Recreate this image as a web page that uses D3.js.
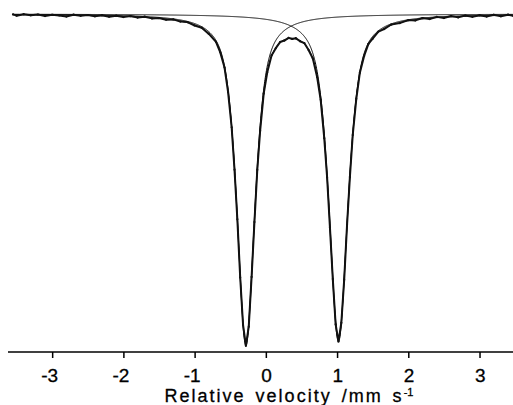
<!DOCTYPE html>
<html lang="en">
<head>
  <meta charset="utf-8">
  <title>Mossbauer spectrum</title>
  <script src="https://d3js.org/d3.v7.min.js"></script>
  <style>
    body { margin: 0; background: #fff; }
    .fit-line { fill: none; stroke: #000; stroke-width: 1; }
    .data-line { fill: none; stroke: #111; stroke-width: 2; stroke-linejoin: round; }
    .data-dot { fill: #111; }
    .axis text { font-family: "Liberation Sans", Arial, sans-serif; font-size: 19px; fill: #000; stroke: #000; stroke-width: 0.3; }
    .axis line, .axis path { stroke: #000; stroke-width: 1.5; }
    .title { font-family: "Liberation Sans", Arial, sans-serif; font-size: 18px; letter-spacing: 2px; word-spacing: 3px; stroke: #000; stroke-width: 0.3; }
  </style>
</head>
<body>
<script>
  // measured spectrum (relative transmission, %)
  const velocity = [-3.55,-3.5,-3.4,-3.3,-3.2,-3.1,-3.0,-2.9,-2.8,-2.7,-2.6,-2.5,-2.4,-2.3,-2.2,-2.1,-2.0,-1.9,-1.8,-1.7,-1.6,-1.5,-1.4,-1.3,-1.2,-1.1,-1.0,-0.9,-0.8,-0.7,-0.64,-0.58,-0.53,-0.48,-0.44,-0.40,-0.36,-0.32,-0.28,-0.24,-0.20,-0.16,-0.12,-0.08,-0.03,0.02,0.08,0.14,0.20,0.26,0.32,0.37,0.42,0.48,0.54,0.60,0.66,0.72,0.77,0.82,0.86,0.90,0.94,0.98,1.02,1.06,1.10,1.14,1.18,1.22,1.27,1.32,1.38,1.44,1.50,1.58,1.66,1.76,1.88,2.0,2.1,2.2,2.3,2.4,2.5,2.6,2.7,2.8,2.9,3.0,3.1,3.2,3.3,3.4,3.47];
  const transmission = [99.98,99.90,99.99,99.92,99.97,99.88,99.95,99.91,99.85,99.96,99.89,99.94,99.86,99.93,99.84,99.90,99.82,99.88,99.79,99.84,99.74,99.76,99.66,99.68,99.55,99.52,99.32,99.19,98.82,98.35,97.73,96.83,95.38,93.30,90.79,87.85,84.41,81.61,80.37,81.50,84.44,87.69,90.78,93.09,95.29,96.55,97.55,97.98,98.34,98.43,98.59,98.52,98.57,98.39,98.28,97.87,97.37,96.27,94.92,92.65,90.34,87.36,84.32,81.63,80.62,81.73,84.28,87.51,90.35,92.84,94.98,96.53,97.52,98.23,98.54,98.96,99.11,99.38,99.46,99.64,99.62,99.76,99.70,99.83,99.76,99.88,99.80,99.91,99.83,99.93,99.85,99.95,99.86,99.96,99.89];

  // fitted lines: centre (mm/s), half width (mm/s), depth (%)
  const lineCentre = [-0.28, 1.02];
  const lineWidth = [0.15, 0.158];
  const lineDepth = [19.43, 19.20];
  const lorentzFraction = 0.7;

  const tickValues = [-3, -2, -1, 0, 1, 2, 3];
  const tickLabels = ["-3", "-2", "-1", "0", "1", "2", "3"];

  const width = 513, height = 405;
  const svg = d3.select("body").append("svg")
    .attr("width", width)
    .attr("height", height);

  const xScale = d3.scaleLinear().domain([-3.62, 3.47]).range([8, 513]);
  const yScale = d3.scaleLinear().domain([80, 100]).range([352, 14]);

  // pseudo-Voigt line profile
  function profile(i, v) {
    const u = (v - lineCentre[i]) / lineWidth[i];
    const u2 = u * u;
    return lineDepth[i] * (lorentzFraction / (1 + u2) + (1 - lorentzFraction) * Math.exp(-Math.LN2 * u2));
  }

  const grid = d3.range(-3.56, 3.47, 0.004);
  const line = d3.line().x(d => xScale(d[0])).y(d => yScale(d[1]));

  // the two component lines and their sum
  [0, 1].forEach(i => {
    svg.append("path")
      .attr("class", "fit-line")
      .attr("d", line(grid.map(v => [v, 100 - profile(i, v)])));
  });
  svg.append("path")
    .attr("class", "fit-line")
    .attr("d", line(grid.map(v => [v, 100 - profile(0, v) - profile(1, v)])));

  // data points
  const points = velocity.map((v, i) => [v, transmission[i]]);
  svg.append("path")
    .attr("class", "data-line")
    .attr("d", line(points));
  svg.selectAll(".data-dot")
    .data(points)
    .enter().append("circle")
    .attr("class", "data-dot")
    .attr("cx", d => xScale(d[0]))
    .attr("cy", d => yScale(d[1]))
    .attr("r", 1.1);

  // x axis
  const axis = svg.append("g")
    .attr("class", "axis")
    .attr("transform", "translate(0,352)")
    .call(d3.axisBottom(xScale)
      .tickValues(tickValues)
      .tickFormat((d, i) => tickLabels[i])
      .tickSize(6)
      .tickSizeOuter(0)
      .tickPadding(11));
  axis.select(".domain").attr("d", "M8,0H513");
  axis.selectAll(".tick text")
    .attr("text-anchor", "end")
    .attr("x", 5.5);

  const title = svg.append("text")
    .attr("class", "title")
    .attr("x", 289)
    .attr("y", 402)
    .attr("text-anchor", "middle");
  title.append("tspan").text("Relative velocity /mm s");
  title.append("tspan")
    .attr("dy", -6)
    .attr("font-size", "11px")
    .attr("letter-spacing", "0px")
    .text("-1");
</script>
</body>
</html>
